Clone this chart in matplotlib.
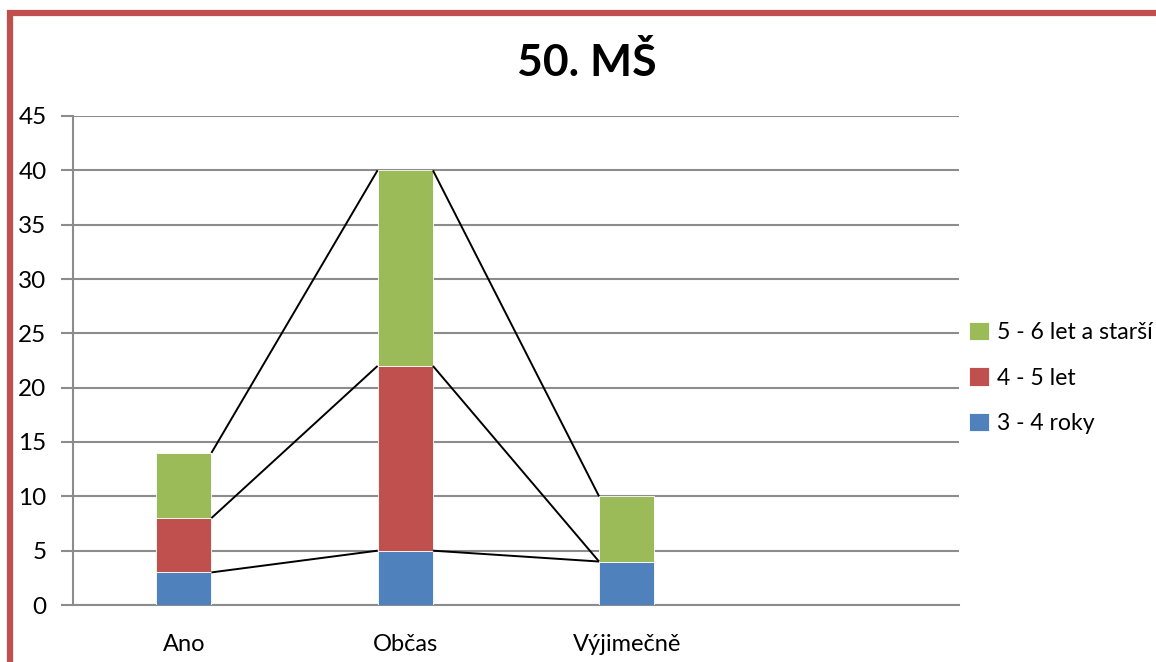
import numpy as np
import matplotlib.pyplot as plt
from matplotlib.patches import Rectangle

plt.rcParams['font.family'] = ['Lato', 'DejaVu Sans']

categories = ['Ano', 'Občas', 'Výjimečně', '']
series_names = ['3 - 4 roky', '4 - 5 let', '5 - 6 let a starší']
roky_3_4 = [3, 5, 4, 0]
let_4_5 = [5, 17, 0, 0]
let_5_6 = [6, 18, 6, 0]
colors = ['#4F81BD', '#C0504D', '#9BBB59']

values = np.array([roky_3_4, let_4_5, let_5_6], dtype=float)
n_used = 3  # categories that actually carry data

fig = plt.figure(figsize=(11.56, 6.62), dpi=100)
ax = fig.add_axes([73 / 1156, 1 - 605 / 662, (959 - 73) / 1156, (605 - 116) / 662])

x = np.arange(len(categories))
width = 0.25
bottom = np.zeros(len(categories))
handles = []
for vals, name, col in zip(values, series_names, colors):
    h = ax.bar(x, vals, width, bottom=bottom, color=col, edgecolor='white',
               linewidth=0.6, label=name, zorder=3)
    handles.append(h)
    bottom = bottom + vals
    # series lines between neighbouring bars
    for i in range(n_used - 1):
        ax.plot([x[i] + width / 2, x[i + 1] - width / 2], [bottom[i], bottom[i + 1]],
                color='black', linewidth=1.4, zorder=4, solid_capstyle='butt')

ax.set_xlim(-0.5, len(categories) - 0.5)
ax.set_ylim(0, 45)
ax.set_yticks(np.arange(0, 46, 5))
ax.yaxis.grid(True, color='#8C8C8C', linewidth=1.5, zorder=0)
ax.set_axisbelow(True)
ax.set_xticks(x)
ax.set_xticklabels(categories, fontsize=17)
ax.tick_params(axis='x', length=0, pad=21)
ax.tick_params(axis='y', length=9, width=1.5, color='#8C8C8C', labelsize=17.5, pad=10)
for side in ['top', 'right']:
    ax.spines[side].set_visible(False)
for side in ['left', 'bottom']:
    ax.spines[side].set_color('#8C8C8C')
    ax.spines[side].set_linewidth(1.5)

fig.text(587 / 1156, 1 - 62 / 662, '50. MŠ', ha='center', va='center',
         fontsize=32, fontweight='bold')

fig.legend(handles[::-1], series_names[::-1], loc='center left',
           bbox_to_anchor=(969 / 1156, 1 - 378 / 662), frameon=False,
           fontsize=16.6, handlelength=0.85, handleheight=0.85,
           handletextpad=0.35, labelspacing=1.05, borderpad=0, borderaxespad=0)

# outer chart frame
fig.patches.append(Rectangle((10 / 1156, -0.1), 1.2, 1 - 13 / 662 + 0.1,
                             transform=fig.transFigure, fill=False,
                             edgecolor='#C0504D', linewidth=4.5))

fig.savefig('out.png', dpi=100)
